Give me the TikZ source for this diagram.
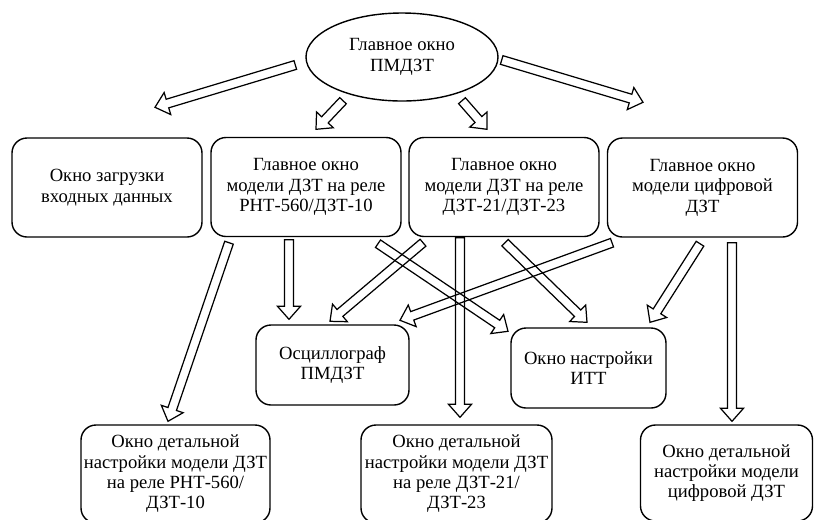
\documentclass[tikz,border=0pt]{standalone}
\usepackage{fontspec}
\setmainfont{Liberation Serif}
\usetikzlibrary{calc,shapes.geometric}
\tikzset{
  win/.style={draw, rounded corners=0.3cm, align=center, line width=0.8pt, inner sep=0pt},
  fatline/.style={draw, line width=0.7pt, line join=miter},
}
\newcommand\fatarrow[2]{%
  \coordinate (fa-a) at (#1);
  \coordinate (fa-b) at (#2);
  \coordinate (fa-n) at ($(fa-b)!0.26cm!(fa-a)$);
  \draw[fatline] ($(fa-a)!0.09cm!90:(fa-b)$) -- ($(fa-n)!0.09cm!90:(fa-b)$)
    -- ($(fa-n)!0.23cm!90:(fa-b)$) -- (fa-b) -- ($(fa-n)!0.23cm!-90:(fa-b)$)
    -- ($(fa-n)!0.09cm!-90:(fa-b)$) -- ($(fa-a)!0.09cm!-90:(fa-b)$) -- cycle;
}

\begin{document}
\begin{tikzpicture}[font=\fontsize{10.6}{11.6}\selectfont]
  \useasboundingbox (0,0) rectangle (16.42,-10.38);
  \clip (0,0) rectangle (16.42,-10.38);
  \node[draw, ellipse, line width=0.8pt, minimum width=3.84cm, minimum height=1.76cm, inner sep=0pt, align=center] (ell) at (8.04,-1.14) {Главное окно\\ПМДЗТ};
  \node[win, minimum width=3.8cm, minimum height=1.98cm] (b1) at (2.14,-3.75) {Окно загрузки\\входных данных};
  \node[win, minimum width=3.8cm, minimum height=1.98cm] (b2) at (6.12,-3.74) {Главное окно\\модели ДЗТ на реле\\РНТ-560/ДЗТ-10};
  \node[win, minimum width=3.8cm, minimum height=1.98cm] (b3) at (10.08,-3.74) {Главное окно\\модели ДЗТ на реле\\ДЗТ-21/ДЗТ-23};
  \node[win, minimum width=3.8cm, minimum height=1.98cm] (b4) at (14.05,-3.75) {Главное окно\\модели цифровой\\ДЗТ};
  \node[win, minimum width=3.06cm, minimum height=1.6cm] (osc) at (6.65,-7.30) {Осциллограф\\ПМДЗТ};
  \node[win, minimum width=3.1cm, minimum height=1.6cm] (itt) at (11.77,-7.36) {Окно настройки\\ИТТ};
  \node[win, minimum width=3.78cm, minimum height=1.96cm] (d1) at (3.51,-9.48) {Окно детальной\\настройки модели ДЗТ\\на реле РНТ-560/\\ДЗТ-10};
  \node[win, minimum width=3.82cm, minimum height=1.96cm] (d2) at (9.13,-9.48) {Окно детальной\\настройки модели ДЗТ\\на реле ДЗТ-21/\\ДЗТ-23};
  \node[win, minimum width=3.44cm, minimum height=1.92cm] (d3) at (14.53,-9.46) {Окно детальной\\настройки модели\\цифровой ДЗТ};
  \fatarrow{[shift={(-0.20,-0.16)}]ell.west}{[shift={(0.96,0.60)}]b1.north}
  \fatarrow{[shift={(-1.18,0.02)}]ell.south}{[shift={(0.20,0.15)}]b2.north}
  \fatarrow{[shift={(1.20,0.02)}]ell.south}{[shift={(-0.34,0.15)}]b3.north}
  \fatarrow{[shift={(0.06,-0.06)}]ell.east}{[shift={(-1.19,0.70)}]b4.north}
  \fatarrow{[shift={(-0.34,-0.05)}]b2.south}{[shift={(-0.87,0.10)}]osc.north}
  \fatarrow{[shift={(-1.54,-0.11)}]b2.south}{[shift={(-0.15,0.06)}]d1.north}
  \fatarrow{[shift={(1.44,-0.13)}]b2.south}{[shift={(-1.61,-0.08)}]itt.north}
  \fatarrow{[shift={(-1.62,-0.11)}]b3.south}{[shift={(-0.05,0.06)}]osc.north}
  \fatarrow{[shift={(-0.88,-0.01)}]b3.south}{[shift={(0.07,0.14)}]d2.north}
  \fatarrow{[shift={(0.02,-0.11)}]b3.south}{[shift={(-0.03,0.10)}]itt.north}
  \fatarrow{[shift={(-1.81,-0.10)}]b4.south}{[shift={(1.35,0.08)}]osc.north}
  \fatarrow{[shift={(-0.05,-0.12)}]b4.south}{[shift={(1.23,0.10)}]itt.north}
  \fatarrow{[shift={(0.59,-0.10)}]b4.south}{[shift={(0.11,0.06)}]d3.north}
\end{tikzpicture}
\end{document}
